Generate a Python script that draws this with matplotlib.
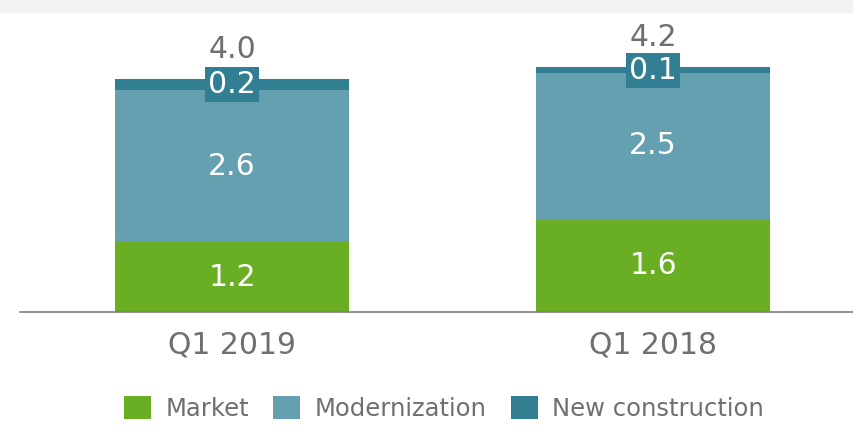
import numpy as np
import matplotlib.pyplot as plt
from matplotlib.patches import Rectangle

quarters = ['Q1 2019', 'Q1 2018']
market = [1.2, 1.6]
modernization = [2.6, 2.5]
new_construction = [0.2, 0.1]
totals = [4.0, 4.2]

c_market = '#6aaf23'
c_modern = '#65a0b1'
c_new = '#327e93'
grey = '#6f6f6f'

fig = plt.figure(figsize=(8.54, 4.34), dpi=100)
# grey title band at the top (title text cut off in the source)
fig.patches.append(Rectangle((0, 1 - 12/434), 1, 12/434, transform=fig.transFigure,
                             color='#f2f2f2', zorder=0))

ax = fig.add_axes([20/854, 122/434, 834/854, 300/434])
x = np.arange(len(quarters))
w = 0.556
fs = 21.5

b1 = ax.bar(x, market, w, color=c_market, label='Market')
b2 = ax.bar(x, modernization, w, bottom=market, color=c_modern, label='Modernization')
bottom2 = np.array(market) + np.array(modernization)
b3 = ax.bar(x, new_construction, w, bottom=bottom2, color=c_new, label='New construction')

for i in range(len(x)):
    ax.text(x[i], market[i] / 2, f'{market[i]:.1f}', ha='center', va='center',
            color='white', fontsize=fs)
    ax.text(x[i], market[i] + modernization[i] / 2, f'{modernization[i]:.1f}',
            ha='center', va='center', color='white', fontsize=fs)
    ax.text(x[i], bottom2[i] + new_construction[i] / 2, f'{new_construction[i]:.1f}',
            ha='center', va='center', color='white', fontsize=fs,
            bbox=dict(boxstyle='square,pad=0.1', fc=c_new, ec='none'))
    ax.text(x[i], totals[i] + 0.5, f'{totals[i]:.1f}', ha='center', va='center',
            color=grey, fontsize=fs)

ax.set_xlim(-0.5036, 1.477)
ax.set_ylim(0, 300/58.3)
ax.set_xticks(x)
ax.set_xticklabels(quarters, fontsize=fs, color=grey)
ax.tick_params(axis='x', length=0, pad=13)
ax.set_yticks([])
for s in ['top', 'right', 'left']:
    ax.spines[s].set_visible(False)
ax.spines['bottom'].set_color('#808080')
ax.spines['bottom'].set_linewidth(1.2)
ax.patch.set_alpha(0)

leg = fig.legend(handles=[b1, b2, b3], loc='lower center', bbox_to_anchor=(0.52, -0.02),
                 ncol=3, frameon=False, fontsize=17.5, handlelength=1.1, handleheight=1.1,
                 columnspacing=1.0, handletextpad=0.6)
for t in leg.get_texts():
    t.set_color(grey)

plt.savefig('out.png', dpi=100)
